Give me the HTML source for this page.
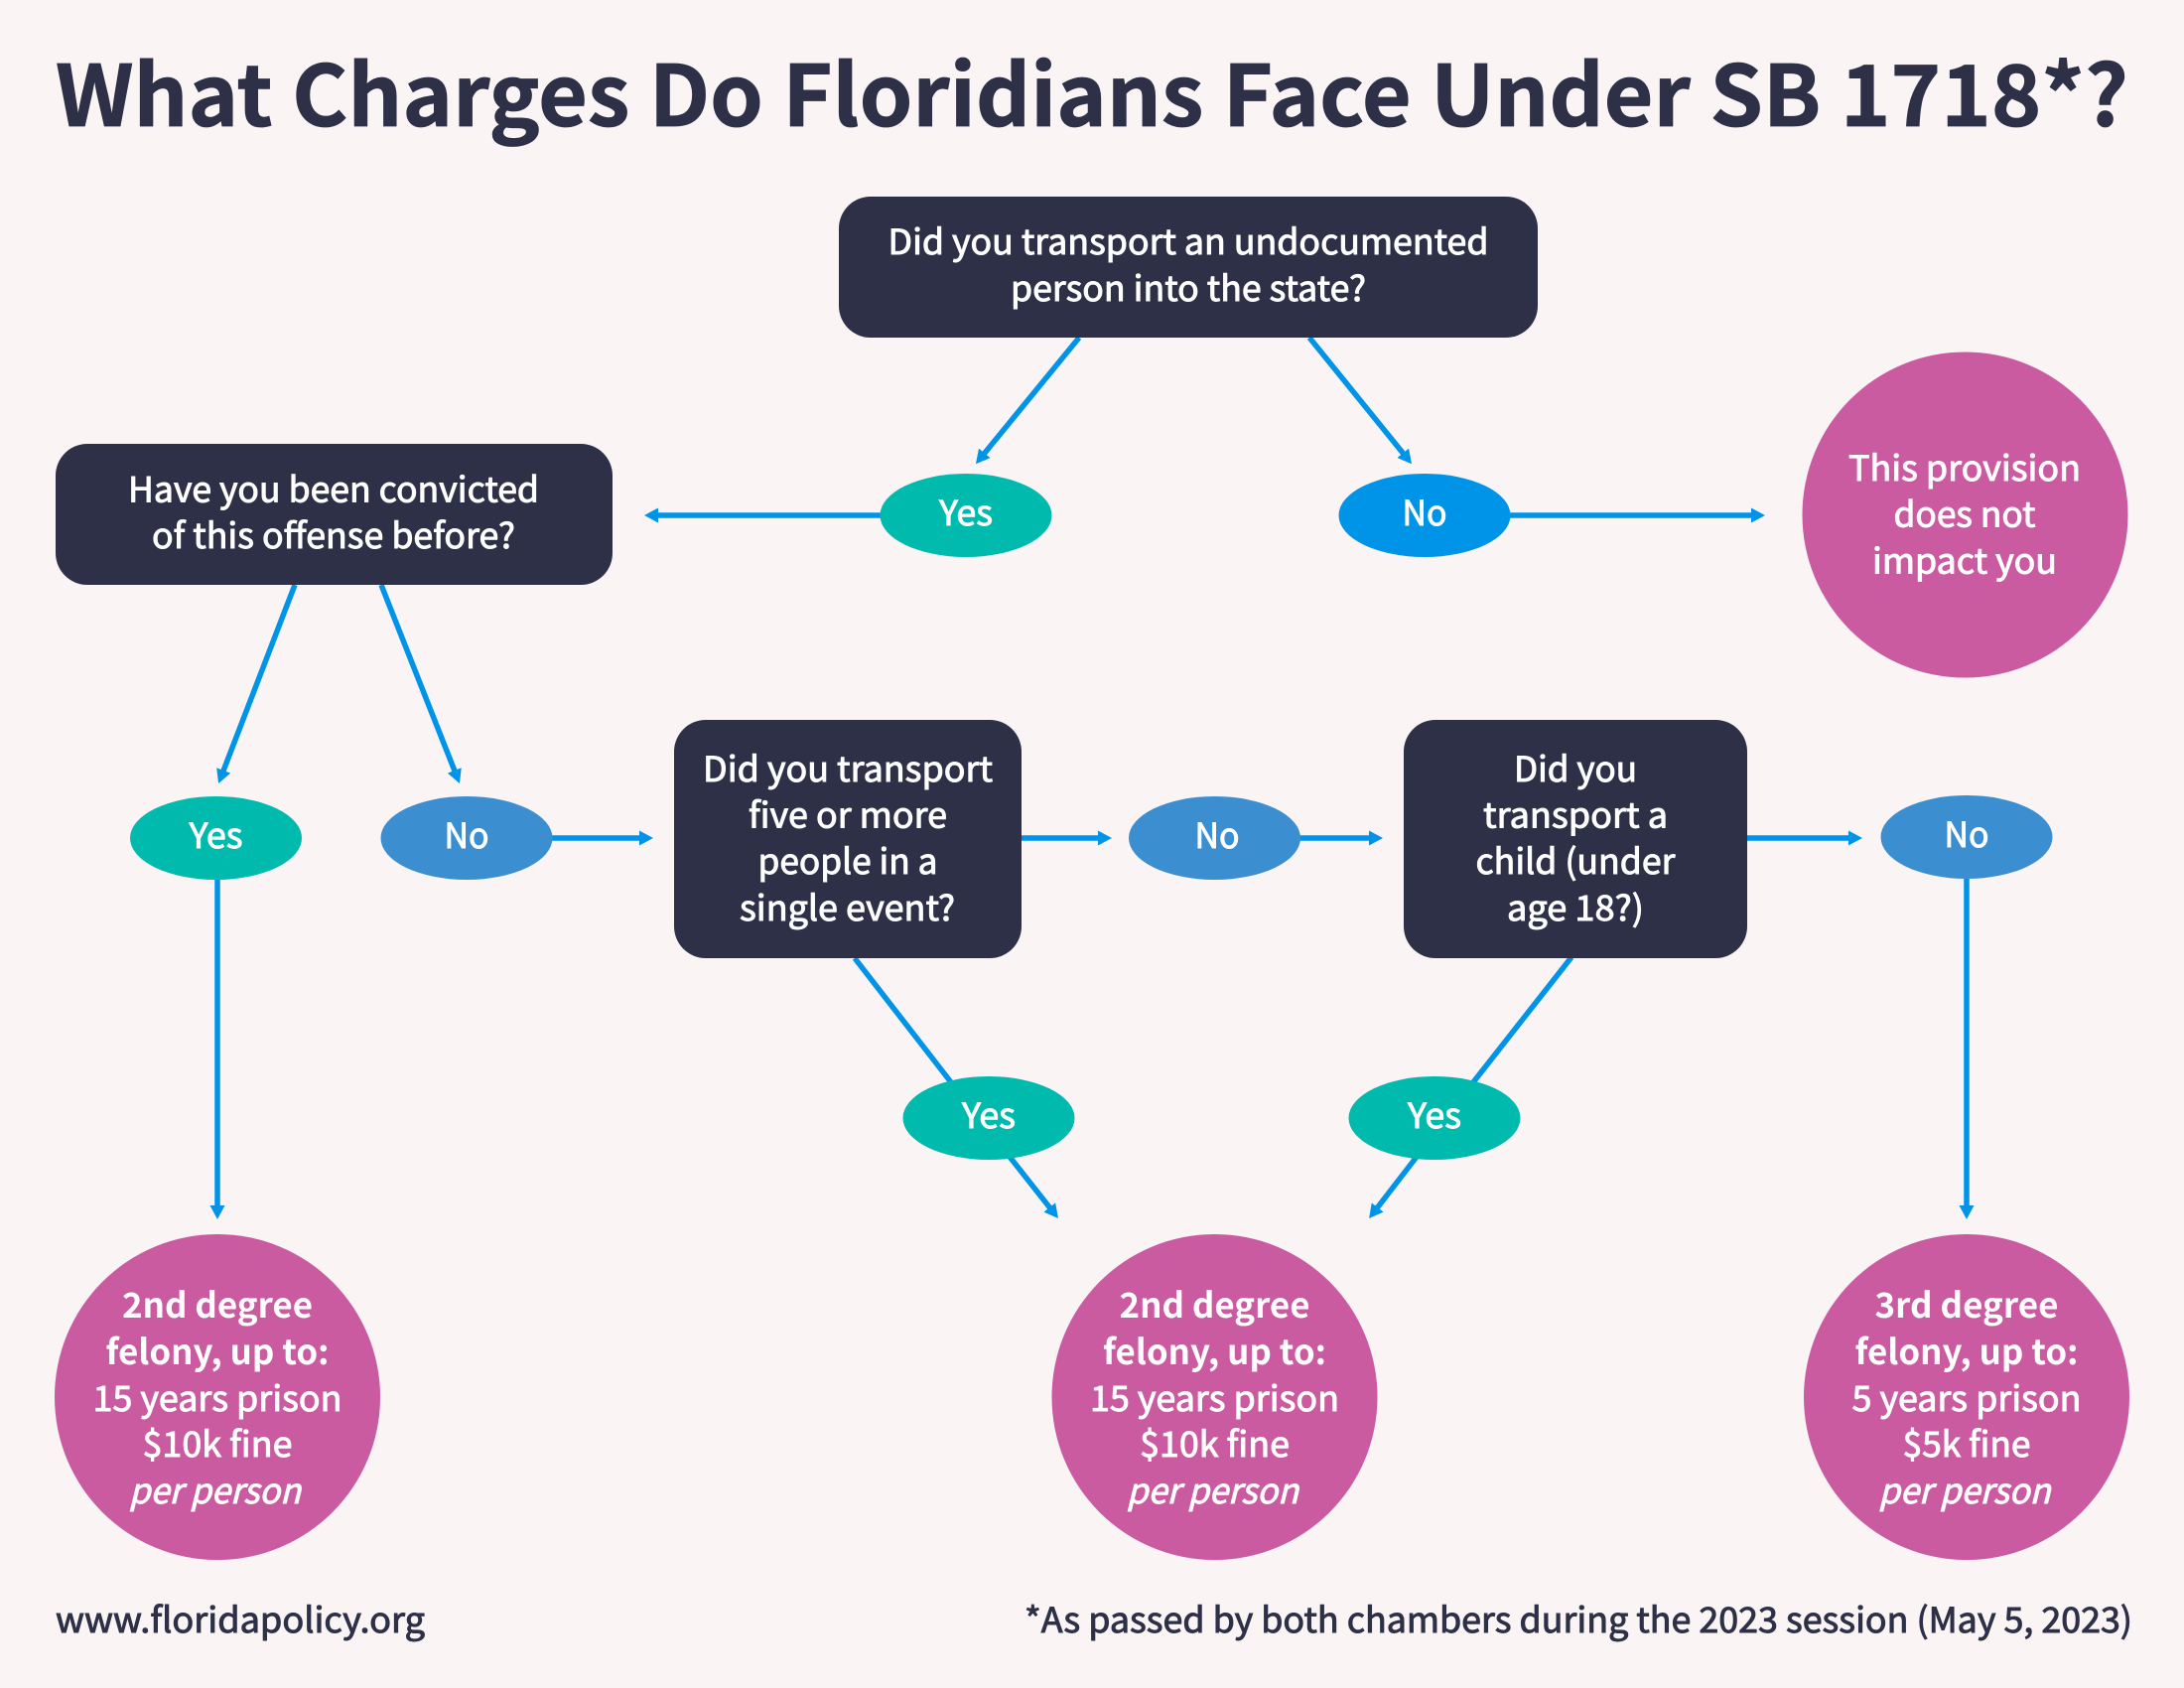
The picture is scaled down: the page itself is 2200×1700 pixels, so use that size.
<!DOCTYPE html>
<html lang="en"><head><meta charset="utf-8"><title>What Charges Do Floridians Face Under SB 1718</title>
<style>
html,body{margin:0;padding:0;background:#faf4f5}
svg{display:block}
text{font-family:"Noto Sans CJK JP","Liberation Sans",sans-serif;font-weight:400;font-size:35px;text-anchor:middle;fill:#fff;stroke:#fff;stroke-width:.9px}
.k{fill:#2d3047;stroke:#2d3047}
.b{font-weight:700;stroke-width:0}
.t{font-weight:700;stroke-width:.8px}
.i{font-style:italic}
line{stroke:#0094e8;stroke-width:5.5;marker-end:url(#a)}
line.n{marker-end:none}
</style></head><body>
<svg width="2200" height="1700" viewBox="0 0 2200 1700" xmlns="http://www.w3.org/2000/svg">
<defs><marker id="a" markerUnits="userSpaceOnUse" markerWidth="16" markerHeight="16" refX="6" refY="7.500" orient="auto"><path d="M0 0L14 7.500L0 15z" fill="#0094e8"/></marker></defs>
<rect width="2200" height="1700" fill="#faf4f5"/>
<line x1="1087" y1="340" x2="988" y2="461"/>
<line x1="1319" y1="340" x2="1417" y2="461"/>
<line x1="887" y1="519" x2="657" y2="519"/>
<line x1="1521" y1="519" x2="1770" y2="519"/>
<line x1="297" y1="589" x2="223" y2="781.500"/>
<line x1="384" y1="589" x2="460" y2="781.500"/>
<line x1="219" y1="885" x2="219" y2="1220"/>
<line x1="556" y1="844" x2="650" y2="844"/>
<line x1="1029" y1="844" x2="1112" y2="844"/>
<line x1="1309" y1="844" x2="1385" y2="844"/>
<line x1="1760" y1="844" x2="1868" y2="844"/>
<line x1="1981" y1="885" x2="1981" y2="1220"/>
<line class="n" x1="861" y1="965" x2="958" y2="1090"/>
<line x1="1017" y1="1165" x2="1061" y2="1220.700"/>
<line class="n" x1="1583" y1="964" x2="1484" y2="1090"/>
<line x1="1427" y1="1165" x2="1384" y2="1220.700"/>

<rect x="845" y="198" width="704" height="142" rx="32" fill="#2d3047"/>
<rect x="56" y="447" width="561" height="142" rx="32" fill="#2d3047"/>
<rect x="679" y="725" width="350" height="240" rx="32" fill="#2d3047"/>
<rect x="1414" y="725" width="346" height="240" rx="32" fill="#2d3047"/>

<ellipse cx="973" cy="519" rx="86.500" ry="42" fill="#00baad"/>
<ellipse cx="1435" cy="519" rx="86.500" ry="42" fill="#0094e8"/>
<ellipse cx="217.500" cy="844" rx="86.500" ry="42" fill="#00baad"/>
<ellipse cx="470" cy="844" rx="86.500" ry="42" fill="#3b8fd1"/>
<ellipse cx="1223.500" cy="844" rx="86.500" ry="42" fill="#3b8fd1"/>
<ellipse cx="1981" cy="843" rx="86.500" ry="42" fill="#3b8fd1"/>
<ellipse cx="996" cy="1126" rx="86.500" ry="42" fill="#00baad"/>
<ellipse cx="1445" cy="1126" rx="86.500" ry="42" fill="#00baad"/>

<circle cx="1979.500" cy="518.500" r="164" fill="#cb5ba0"/>
<circle cx="219" cy="1407" r="164" fill="#cb5ba0"/>
<circle cx="1223.500" cy="1407" r="164" fill="#cb5ba0"/>
<circle cx="1981" cy="1407" r="164" fill="#cb5ba0"/>

<text class="k t" x="1100" y="127" style="font-size:85px" textLength="2088" lengthAdjust="spacingAndGlyphs">What Charges Do Floridians Face Under SB 1718*?</text>

<text x="1197" y="256" textLength="605" lengthAdjust="spacingAndGlyphs">Did you transport an undocumented</text>
<text x="1197" y="303" textLength="358" lengthAdjust="spacingAndGlyphs">person into the state?</text>
<text x="336" y="505.500" textLength="414" lengthAdjust="spacingAndGlyphs">Have you been convicted</text>
<text x="336" y="552" textLength="366" lengthAdjust="spacingAndGlyphs">of this offense before?</text>

<text x="973" y="529" textLength="54" lengthAdjust="spacingAndGlyphs">Yes</text>
<text x="1435" y="529" textLength="45" lengthAdjust="spacingAndGlyphs">No</text>
<text x="1979" y="484" textLength="234" lengthAdjust="spacingAndGlyphs">This provision</text>
<text x="1979" y="530.500" textLength="143" lengthAdjust="spacingAndGlyphs">does not</text>
<text x="1979" y="577.500" textLength="186" lengthAdjust="spacingAndGlyphs">impact you</text>

<text x="217.500" y="854" textLength="54" lengthAdjust="spacingAndGlyphs">Yes</text>
<text x="470" y="854" textLength="45" lengthAdjust="spacingAndGlyphs">No</text>
<text x="1226" y="854" textLength="45" lengthAdjust="spacingAndGlyphs">No</text>
<text x="1981" y="853" textLength="45" lengthAdjust="spacingAndGlyphs">No</text>
<text x="996" y="1136" textLength="54" lengthAdjust="spacingAndGlyphs">Yes</text>
<text x="1445" y="1136" textLength="54" lengthAdjust="spacingAndGlyphs">Yes</text>

<text x="854" y="787" textLength="292" lengthAdjust="spacingAndGlyphs">Did you transport</text>
<text x="854" y="833.500" textLength="200" lengthAdjust="spacingAndGlyphs">five or more</text>
<text x="854" y="880" textLength="181" lengthAdjust="spacingAndGlyphs">people in a</text>
<text x="853.500" y="927" textLength="217" lengthAdjust="spacingAndGlyphs">single event?</text>

<text x="1587" y="787" textLength="124" lengthAdjust="spacingAndGlyphs">Did you</text>
<text x="1587" y="833.500" textLength="186" lengthAdjust="spacingAndGlyphs">transport a</text>
<text x="1587" y="880" textLength="201" lengthAdjust="spacingAndGlyphs">child (under</text>
<text x="1587" y="927" textLength="138" lengthAdjust="spacingAndGlyphs">age 18?)</text>

<text class="b" x="219" y="1327" textLength="192" lengthAdjust="spacingAndGlyphs">2nd degree</text>
<text class="b" x="219" y="1374" textLength="225" lengthAdjust="spacingAndGlyphs">felony, up to:</text>
<text x="219" y="1421" textLength="251" lengthAdjust="spacingAndGlyphs">15 years prison</text>
<text x="219" y="1467" textLength="151" lengthAdjust="spacingAndGlyphs">$10k fine</text>
<text class="i" x="216.500" y="1514" textLength="173" lengthAdjust="spacingAndGlyphs">per person</text>

<text class="b" x="1223.500" y="1327" textLength="192" lengthAdjust="spacingAndGlyphs">2nd degree</text>
<text class="b" x="1223.500" y="1374" textLength="225" lengthAdjust="spacingAndGlyphs">felony, up to:</text>
<text x="1223.500" y="1421" textLength="251" lengthAdjust="spacingAndGlyphs">15 years prison</text>
<text x="1223.500" y="1467" textLength="151" lengthAdjust="spacingAndGlyphs">$10k fine</text>
<text class="i" x="1221.500" y="1514" textLength="173" lengthAdjust="spacingAndGlyphs">per person</text>

<text class="b" x="1981" y="1327" textLength="185" lengthAdjust="spacingAndGlyphs">3rd degree</text>
<text class="b" x="1981" y="1374" textLength="225" lengthAdjust="spacingAndGlyphs">felony, up to:</text>
<text x="1981" y="1421" textLength="231" lengthAdjust="spacingAndGlyphs">5 years prison</text>
<text x="1981" y="1467" textLength="129" lengthAdjust="spacingAndGlyphs">$5k fine</text>
<text class="i" x="1979" y="1514" textLength="173" lengthAdjust="spacingAndGlyphs">per person</text>

<text class="k" x="242" y="1644" textLength="372" lengthAdjust="spacingAndGlyphs">www.floridapolicy.org</text>
<text class="k" x="1590" y="1644" textLength="1116" lengthAdjust="spacingAndGlyphs">*As passed by both chambers during the 2023 session (May 5, 2023)</text>
</svg>
</body></html>
